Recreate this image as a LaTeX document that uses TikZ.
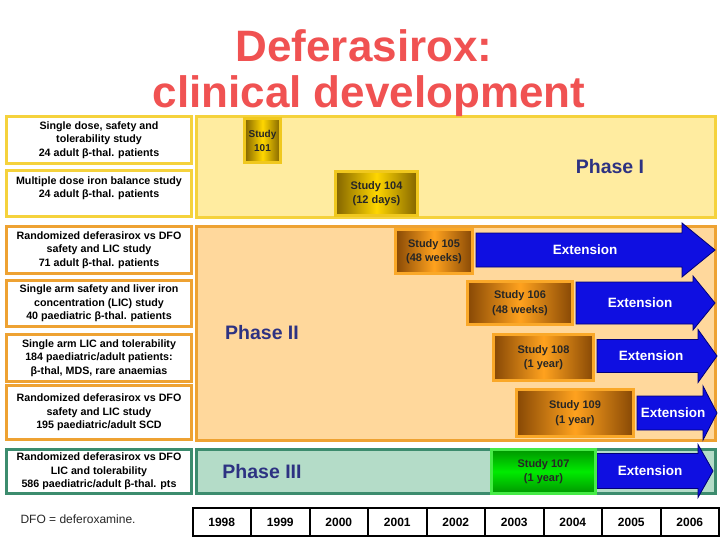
\documentclass[tikz,border=0pt]{standalone}
\usepackage{fontspec}
\setmainfont{Liberation Sans}
\usepackage{xcolor}
\usepackage{tikz}
\definecolor{titlered}{RGB}{240, 82, 82}
\definecolor{phaseblue}{RGB}{45, 50, 130}
\definecolor{pIfill}{RGB}{255, 236, 160}
\definecolor{pIline}{RGB}{245, 210, 60}
\definecolor{pIIfill}{RGB}{255, 216, 156}
\definecolor{pIIline}{RGB}{238, 162, 50}
\definecolor{pIIIfill}{RGB}{180, 220, 200}
\definecolor{pIIIline}{RGB}{60, 140, 110}
\definecolor{golddark}{RGB}{130, 100, 0}
\definecolor{goldlight}{RGB}{255, 214, 0}
\definecolor{goldline}{RGB}{240, 200, 30}
\definecolor{orangedark}{RGB}{135, 72, 5}
\definecolor{orangelight}{RGB}{255, 162, 30}
\definecolor{orangeline}{RGB}{250, 168, 40}
\definecolor{greendark}{RGB}{0, 150, 0}
\definecolor{greenlight}{RGB}{0, 235, 0}
\definecolor{greenline}{RGB}{70, 235, 70}
\definecolor{extblue}{RGB}{15, 15, 225}
\definecolor{extnavy}{RGB}{0, 0, 120}

\begin{document}
\begin{tikzpicture}[x=1pt, y=-1pt,
    leftbox/.style={draw, line width=3pt, fill=white, align=center, inner sep=0pt,
      minimum width=185pt, font=\bfseries\fontsize{10.7}{13.3}\selectfont},
    study/.style={draw, line width=3pt, align=center, inner sep=0pt,
      text=black!85, font=\bfseries\fontsize{11}{14.5}\selectfont},
    goldstudy/.style={study, draw=goldline, left color=golddark, right color=golddark, middle color=goldlight},
    orangestudy/.style={study, draw=orangeline, left color=orangedark, right color=orangedark, middle color=orangelight},
    greenstudy/.style={study, draw=greenline, top color=greendark, bottom color=greendark, middle color=greenlight},
    phase/.style={text=phaseblue, font=\bfseries\fontsize{19.5}{22}\selectfont},
    extarrow/.style={fill=extblue, draw=extnavy, line width=0.8pt},
    exttext/.style={text=white, font=\bfseries\fontsize{13.5}{16}\selectfont},
    yearcell/.style={draw, line width=2pt, fill=white, minimum width=58.5pt, minimum height=28pt,
      inner sep=0pt, font=\bfseries\fontsize{12}{14}\selectfont}]
    \useasboundingbox (0,0) rectangle (720,540);

    % phase panels
    \filldraw[fill=pIfill, draw=pIline, line width=3pt] (196.5,116.5) rectangle (715.5,217.5);
    \filldraw[fill=pIIfill, draw=pIIline, line width=3pt] (196.5,226.5) rectangle (715.5,440.5);
    \filldraw[fill=pIIIfill, draw=pIIIline, line width=3pt] (196.5,449.5) rectangle (715.5,493.5);

    \node[phase] (phaseI) at (610,167) {Phase I};
    \node[phase] (phaseII) at (262,333) {Phase II};
    \node[phase] (phaseIII) at (262,472) {Phase III};

    % study descriptions
    \node[leftbox, draw=pIline, minimum height=47pt] (desc101) at (99,140)
      {Single dose, safety and\\tolerability study\\24 adult β-thal. patients};
    \node[leftbox, draw=pIline, minimum height=46pt] (desc104) at (99,193.5)
      {Multiple dose iron balance study\\24 adult β-thal. patients\\ };
    \node[leftbox, draw=pIIline, minimum height=47pt] (desc105) at (99,250)
      {Randomized deferasirox vs DFO\\safety and LIC study\\71 adult β-thal. patients};
    \node[leftbox, draw=pIIline, minimum height=46pt] (desc106) at (99,303.5)
      {Single arm safety and liver iron\\concentration (LIC) study\\40 paediatric β-thal. patients};
    \node[leftbox, draw=pIIline, minimum height=47pt] (desc108) at (99,358)
      {Single arm LIC and tolerability\\184 paediatric/adult patients:\\β-thal, MDS, rare anaemias};
    \node[leftbox, draw=pIIline, minimum height=54pt] (desc109) at (99,412.5)
      {Randomized deferasirox vs DFO\\safety and LIC study\\195 paediatric/adult SCD};
    \node[leftbox, draw=pIIIline, minimum height=44pt] (desc107) at (99,471.5)
      {Randomized deferasirox vs DFO\\LIC and tolerability\\586 paediatric/adult β-thal. pts};

    % extension arrows
    \foreach \n/\xa/\xb/\xc/\ym/\sh/\hh/\tx in {105/476/682/715/250/17/27/585,
        106/576/693/715/303/21/27/640, 108/597/698/717/356/16.5/26.5/651,
        109/637/703/717/413/17/27/673, 107/597/698/713/471/17.5/26.5/650} {
      \draw[extarrow] (\xa,\ym-\sh) -- (\xb,\ym-\sh) -- (\xb,\ym-\hh) -- (\xc,\ym)
        -- (\xb,\ym+\hh) -- (\xb,\ym+\sh) -- (\xa,\ym+\sh) -- cycle;
      \node[exttext] (ext\n) at (\tx,\ym) {Extension};
    }

    % studies
    \node[goldstudy, minimum width=36pt, minimum height=44pt,
      font=\bfseries\fontsize{10}{14}\selectfont] (s101) at (262.5,140.5) {Study\\101};
    \node[goldstudy, minimum width=82pt, minimum height=44pt] (s104) at (376.5,193.5) {Study 104\\(12 days)};
    \node[orangestudy, minimum width=77pt, minimum height=44pt] (s105) at (434,251.5) {Study 105\\(48 weeks)};
    \node[orangestudy, minimum width=105pt, minimum height=43pt] (s106) at (520,303) {Study 106\\(48 weeks)};
    \node[orangestudy, minimum width=100pt, minimum height=46pt] (s108) at (543.5,357.5) {Study 108\\(1 year)};
    \node[orangestudy, minimum width=117pt, minimum height=47pt] (s109) at (575,413) {Study 109\\(1 year)};
    \node[greenstudy, minimum width=104pt, minimum height=44pt] (s107) at (543.5,471.5) {Study 107\\(1 year)};

    % title
    \node[anchor=base, text=titlered, font=\bfseries\fontsize{44}{46}\selectfont] (title1) at (364,62) {Deferasirox:};
    \node[anchor=base, text=titlered, font=\bfseries\fontsize{44}{46}\selectfont] (title2) at (369,108) {clinical development};

    % time line
    \foreach \yr [count=\i from 0] in {1998,...,2006}
      \node[yearcell] (y\yr) at (192.5+58.5*\i+29.25,522) {\yr};

    \node[anchor=west, text=black!85, font=\fontsize{12}{14}\selectfont] (dfo) at (17,519) {DFO = deferoxamine.};
\end{tikzpicture}
\end{document}
